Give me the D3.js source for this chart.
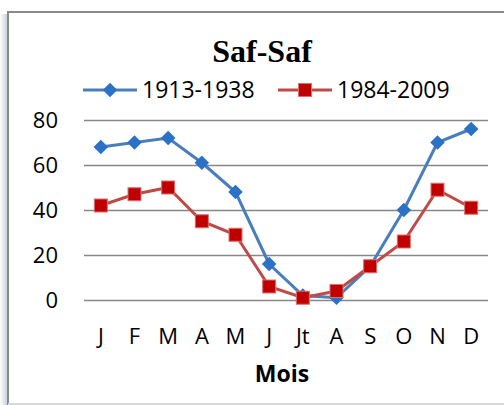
<!DOCTYPE html>
<html>
<head>
<meta charset="utf-8">
<style>
  body { margin: 0; background: #fff; }
  svg { display: block; }
  .y .domain, .x .domain { display: none; }
  .y .tick line { stroke: #878787; stroke-width: 1.5px; }
  .y .tick text, .x .tick text {
    font-family: "Open Sans", sans-serif;
    font-size: 22px;
    fill: #000;
  }
</style>
</head>
<body>
<svg width="504" height="405"></svg>
<script src="https://d3js.org/d3.v7.min.js"></script>
<script>
  // data
  const months = ["J", "F", "M", "A", "M", "J", "Jt", "A", "S", "O", "N", "D"]
  const serie1 = [68, 70, 72, 61, 48, 16, 2, 1, 15, 40, 70, 76]   // 1913-1938
  const serie2 = [42, 47, 50, 35, 29, 6, 1, 4, 15, 26, 49, 41]    // 1984-2009
  const yTicks = [0, 20, 40, 60, 80]

  const svg = d3.select("svg")

  // frame with a soft shadow on the left
  const defs = svg.append("defs")
  const grad = defs.append("linearGradient").attr("id", "shade")
  grad.append("stop").attr("offset", "0%").attr("stop-color", "#fff")
  grad.append("stop").attr("offset", "100%").attr("stop-color", "#c9d2dc")
  svg.append("rect").attr("x", 0).attr("y", 14).attr("width", 7).attr("height", 391)
    .style("fill", "url(#shade)")
  svg.append("rect").attr("x", 8).attr("y", 12).attr("width", 510).attr("height", 392)
    .style("fill", "#fff").style("stroke", "#8a8a8a").style("stroke-width", 2)
  svg.append("line").attr("x1", 8).attr("x2", 504).attr("y1", 404).attr("y2", 404)
    .style("stroke", "#d9d9d9").style("stroke-width", 2)

  const margin = { left: 84, right: 488, top: 120, bottom: 300 }

  const x = d3.scaleBand()
    .domain(d3.range(months.length))
    .range([margin.left, margin.right])

  const y = d3.scaleLinear()
    .domain([0, 80])
    .range([margin.bottom, margin.top])

  svg.append("g")
    .attr("class", "y axis")
    .attr("transform", `translate(${margin.left},0)`)
    .call(d3.axisRight(y).tickValues(yTicks).tickSize(margin.right - margin.left).tickFormat(d3.format("d")))
    .call(g => g.selectAll(".tick text")
      .attr("x", -26).attr("text-anchor", "end").attr("dy", "0.35em"))

  svg.append("g")
    .attr("class", "x axis")
    .attr("transform", `translate(0,${margin.bottom})`)
    .call(d3.axisBottom(x).tickSize(0).tickPadding(28).tickFormat(i => months[i]))

  svg.append("text")
    .attr("x", 282).attr("y", 382)
    .attr("text-anchor", "middle")
    .style("font-family", "'Open Sans', sans-serif")
    .style("font-weight", "bold")
    .style("font-size", "23px")
    .text("Mois")

  svg.append("text")
    .attr("x", 262).attr("y", 62)
    .attr("text-anchor", "middle")
    .style("font-family", "'Liberation Serif', serif")
    .style("font-weight", "bold")
    .style("font-size", "32px")
    .text("Saf-Saf")

  const cx = i => x(i) + x.bandwidth() / 2
  const line = d3.line().x((d, i) => cx(i)).y(d => y(d))

  const blue = { line: "#4a7ebb", mark: "#2a72c6" }
  const red = { line: "#be4b48", mark: "#c00000", edge: "#d9706e" }

  const diamond = d3.symbol().type(d3.symbolDiamond2).size(135)

  // series 1
  svg.append("path").attr("d", line(serie1))
    .style("fill", "none").style("stroke", blue.line).style("stroke-width", 3)
  svg.append("g").selectAll("path")
    .data(serie1)
    .join("path")
    .attr("d", diamond)
    .attr("transform", (d, i) => `translate(${cx(i)},${y(d)})`)
    .style("fill", blue.mark)

  // series 2
  svg.append("path").attr("d", line(serie2))
    .style("fill", "none").style("stroke", red.line).style("stroke-width", 3)
  svg.append("g").selectAll("rect")
    .data(serie2)
    .join("rect")
    .attr("x", (d, i) => cx(i) - 6.5)
    .attr("y", d => y(d) - 6.5)
    .attr("width", 13).attr("height", 13)
    .style("fill", red.mark).style("stroke", red.edge).style("stroke-width", 1)

  // legend
  const legend = [
    { name: "1913-1938", x0: 83, c: blue, kind: "diamond" },
    { name: "1984-2009", x0: 278, c: red, kind: "square" }
  ]
  const lg = svg.append("g").selectAll("g").data(legend).join("g")
    .attr("transform", d => `translate(${d.x0},90)`)
  lg.append("line").attr("x1", 0).attr("x2", 54).attr("y1", 0).attr("y2", 0)
    .style("stroke", d => d.c.line).style("stroke-width", 3)
  lg.filter(d => d.kind == "diamond").append("path")
    .attr("d", diamond).attr("transform", "translate(27,0)")
    .style("fill", d => d.c.mark)
  lg.filter(d => d.kind == "square").append("rect")
    .attr("x", 20.5).attr("y", -6.5).attr("width", 13).attr("height", 13)
    .style("fill", d => d.c.mark).style("stroke", d => d.c.edge)
  lg.append("text")
    .attr("x", 59).attr("y", 0).attr("dy", "0.36em")
    .style("font-family", "'Open Sans', sans-serif")
    .style("font-size", "23px")
    .text(d => d.name)
</script>
</body>
</html>
